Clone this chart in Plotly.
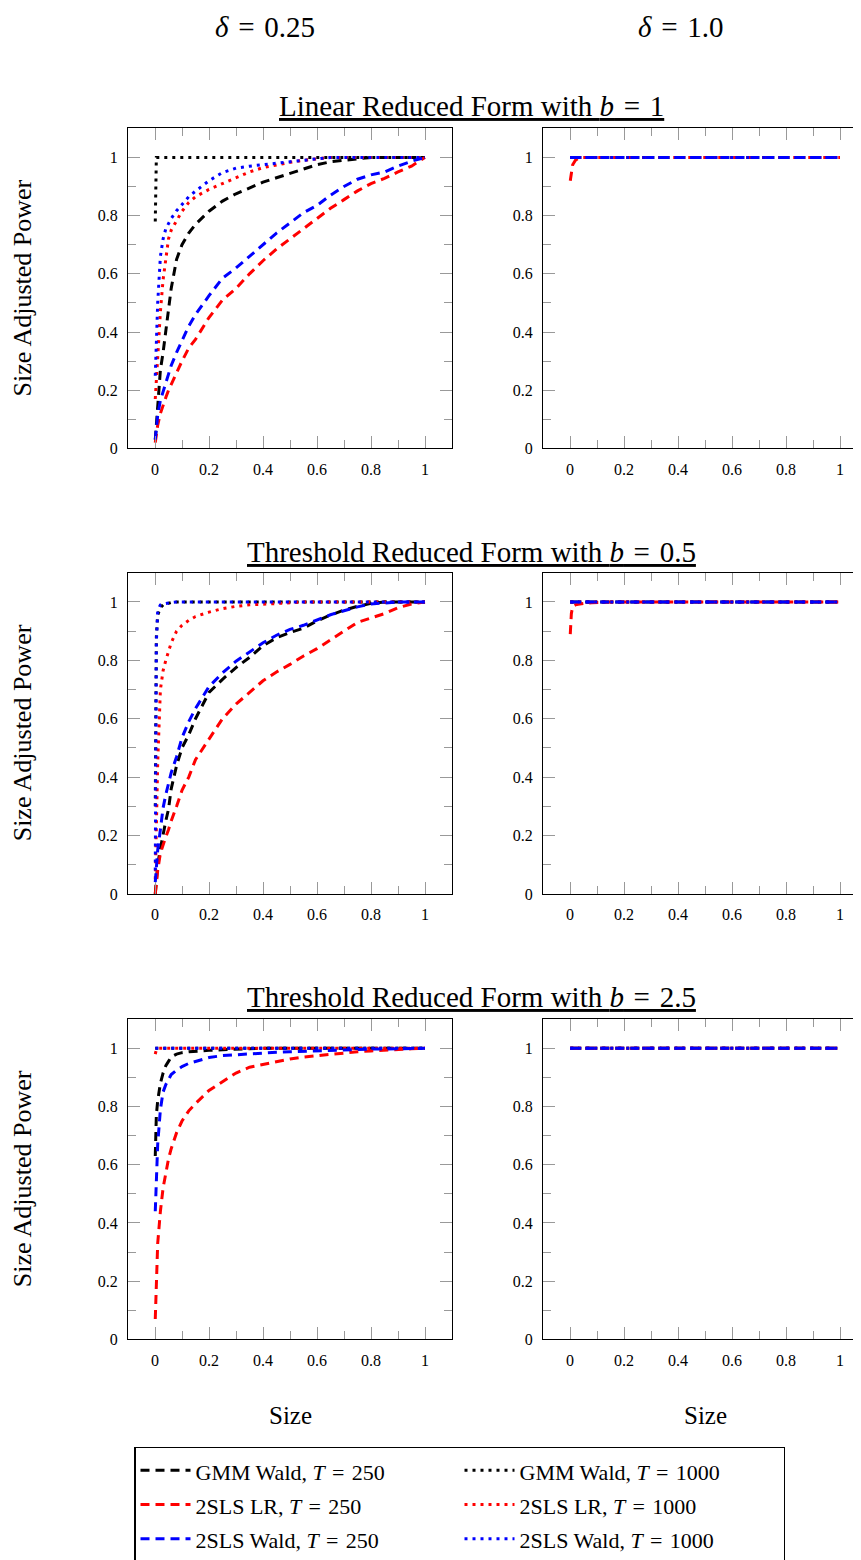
import plotly.graph_objects as go

# ---------------- data ----------------
sizes = [0.001, 0.005, 0.01, 0.02, 0.03, 0.04, 0.05, 0.06, 0.08, 0.1, 0.125, 0.15,
         0.2, 0.25, 0.3, 0.35, 0.4, 0.45, 0.5, 0.55, 0.6, 0.65, 0.7, 0.75, 0.8,
         0.85, 0.9, 0.95, 1.0]

EQ = "\u2004=\u2004"
series_names = [f"GMM Wald, <i>T</i>{EQ}250", f"GMM Wald, <i>T</i>{EQ}1000",
                f"2SLS LR, <i>T</i>{EQ}250", f"2SLS LR, <i>T</i>{EQ}1000",
                f"2SLS Wald, <i>T</i>{EQ}250", f"2SLS Wald, <i>T</i>{EQ}1000"]

row_titles = [f"Linear Reduced Form with <i>b</i>{EQ}1",
              f"Threshold Reduced Form with <i>b</i>{EQ}0.5",
              f"Threshold Reduced Form with <i>b</i>{EQ}2.5"]
col_titles = [f"<i>δ</i>{EQ}0.25", f"<i>δ</i>{EQ}1.0"]
x_ticks = [0, 0.2, 0.4, 0.6, 0.8, 1]
y_ticks = [0, 0.2, 0.4, 0.6, 0.8, 1]

ONES = [1.0] * 29

# Linear, b = 1, delta = 0.25
lin_d025_gmm250 = [0.03, 0.08, 0.15, 0.27, 0.33, 0.40, 0.47, 0.55, 0.65, 0.70, 0.74, 0.77,
                   0.815, 0.85, 0.875, 0.895, 0.915, 0.93, 0.945, 0.96, 0.975, 0.985, 0.99,
                   0.995, 1.0, 1.0, 1.0, 1.0, 1.0]
lin_d025_gmm1000 = [0.78, 1.0, 1.0, 1.0, 1.0, 1.0, 1.0, 1.0, 1.0, 1.0, 1.0, 1.0, 1.0, 1.0,
                    1.0, 1.0, 1.0, 1.0, 1.0, 1.0, 1.0, 1.0, 1.0, 1.0, 1.0, 1.0, 1.0, 1.0, 1.0]
lin_d025_lr250 = [0.02, 0.05, 0.08, 0.12, 0.15, 0.175, 0.20, 0.22, 0.265, 0.30, 0.345, 0.375,
                  0.45, 0.51, 0.55, 0.60, 0.645, 0.685, 0.72, 0.755, 0.79, 0.825, 0.855,
                  0.885, 0.91, 0.928, 0.95, 0.97, 1.0]
lin_d025_lr1000 = [0.17, 0.24, 0.33, 0.47, 0.58, 0.66, 0.72, 0.75, 0.785, 0.815, 0.845, 0.865,
                   0.89, 0.91, 0.93, 0.95, 0.965, 0.975, 0.983, 0.99, 0.995, 1.0, 1.0, 1.0,
                   1.0, 1.0, 1.0, 1.0, 1.0]
lin_d025_wald250 = [0.03, 0.07, 0.115, 0.165, 0.195, 0.23, 0.26, 0.285, 0.33, 0.37, 0.42, 0.46,
                    0.525, 0.585, 0.62, 0.66, 0.70, 0.74, 0.775, 0.81, 0.835, 0.87, 0.90,
                    0.925, 0.94, 0.95, 0.97, 0.987, 1.0]
lin_d025_wald1000 = [0.25, 0.36, 0.50, 0.66, 0.72, 0.755, 0.775, 0.79, 0.817, 0.84, 0.865, 0.884,
                     0.92, 0.948, 0.963, 0.97, 0.975, 0.98, 0.987, 0.992, 0.996, 1.0, 1.0, 1.0,
                     1.0, 1.0, 1.0, 1.0, 1.0]

# Linear, b = 1, delta = 1.0
lin_d1_gmm250 = ONES
lin_d1_gmm1000 = ONES
lin_d1_lr250 = [0.92, 0.955, 0.975, 0.99, 0.997, 1.0, 1.0, 1.0, 1.0, 1.0, 1.0, 1.0, 1.0, 1.0,
                1.0, 1.0, 1.0, 1.0, 1.0, 1.0, 1.0, 1.0, 1.0, 1.0, 1.0, 1.0, 1.0, 1.0, 1.0]
lin_d1_lr1000 = ONES
lin_d1_wald250 = ONES
lin_d1_wald1000 = ONES

# Threshold, b = 0.5, delta = 0.25
th05_d025_gmm250 = [0.0, 0.05, 0.10, 0.155, 0.21, 0.25, 0.29, 0.36, 0.44, 0.50, 0.545, 0.60,
                    0.69, 0.735, 0.775, 0.81, 0.85, 0.877, 0.895, 0.91, 0.935, 0.955, 0.972,
                    0.985, 0.995, 1.0, 1.0, 1.0, 1.0]
th05_d025_gmm1000 = [0.30, 0.88, 0.955, 0.98, 0.99, 0.993, 0.996, 0.998, 1.0, 1.0, 1.0, 1.0,
                     1.0, 1.0, 1.0, 1.0, 1.0, 1.0, 1.0, 1.0, 1.0, 1.0, 1.0, 1.0, 1.0, 1.0,
                     1.0, 1.0, 1.0]
th05_d025_lr250 = [0.0, 0.04, 0.08, 0.14, 0.17, 0.195, 0.22, 0.25, 0.30, 0.355, 0.40, 0.46,
                   0.53, 0.60, 0.65, 0.69, 0.73, 0.76, 0.786, 0.815, 0.84, 0.87, 0.90, 0.93,
                   0.945, 0.96, 0.98, 0.993, 1.0]
th05_d025_lr1000 = [0.05, 0.28, 0.45, 0.70, 0.765, 0.80, 0.827, 0.86, 0.90, 0.92, 0.937, 0.95,
                    0.965, 0.977, 0.985, 0.99, 0.992, 0.995, 0.998, 1.0, 1.0, 1.0, 1.0, 1.0,
                    1.0, 1.0, 1.0, 1.0, 1.0]
th05_d025_wald250 = [0.04, 0.09, 0.15, 0.22, 0.295, 0.34, 0.38, 0.415, 0.47, 0.535, 0.59, 0.635,
                     0.71, 0.757, 0.797, 0.83, 0.86, 0.886, 0.906, 0.92, 0.937, 0.956, 0.97,
                     0.983, 0.993, 0.997, 1.0, 1.0, 1.0]
th05_d025_wald1000 = [0.08, 0.86, 0.97, 0.99, 0.993, 0.995, 0.996, 0.998, 1.0, 1.0, 1.0, 1.0,
                      1.0, 1.0, 1.0, 1.0, 1.0, 1.0, 1.0, 1.0, 1.0, 1.0, 1.0, 1.0, 1.0, 1.0,
                      1.0, 1.0, 1.0]

# Threshold, b = 0.5, delta = 1.0
th05_d1_gmm250 = ONES
th05_d1_gmm1000 = ONES
th05_d1_lr250 = [0.89, 0.96, 0.985, 0.99, 0.992, 0.994, 0.995, 0.996, 0.997, 0.998, 0.999, 1.0,
                 1.0, 1.0, 1.0, 1.0, 1.0, 1.0, 1.0, 1.0, 1.0, 1.0, 1.0, 1.0, 1.0, 1.0, 1.0,
                 1.0, 1.0]
th05_d1_lr1000 = ONES
th05_d1_wald250 = ONES
th05_d1_wald1000 = ONES

# Threshold, b = 2.5, delta = 0.25
th25_d025_gmm250 = [0.63, 0.77, 0.82, 0.88, 0.915, 0.94, 0.955, 0.97, 0.98, 0.985, 0.988, 0.99,
                    0.993, 0.995, 0.997, 0.998, 1.0, 1.0, 1.0, 1.0, 1.0, 1.0, 1.0, 1.0, 1.0,
                    1.0, 1.0, 1.0, 1.0]
th25_d025_gmm1000 = ONES
th25_d025_lr250 = [0.07, 0.22, 0.33, 0.44, 0.52, 0.57, 0.62, 0.655, 0.71, 0.75, 0.785, 0.81,
                   0.855, 0.885, 0.915, 0.935, 0.945, 0.955, 0.963, 0.97, 0.975, 0.98, 0.985,
                   0.988, 0.991, 0.994, 0.996, 0.998, 1.0]
th25_d025_lr1000 = [0.98, 0.995, 1.0, 1.0, 1.0, 1.0, 1.0, 1.0, 1.0, 1.0, 1.0, 1.0, 1.0, 1.0,
                    1.0, 1.0, 1.0, 1.0, 1.0, 1.0, 1.0, 1.0, 1.0, 1.0, 1.0, 1.0, 1.0, 1.0, 1.0]
th25_d025_wald250 = [0.44, 0.58, 0.67, 0.79, 0.85, 0.875, 0.895, 0.91, 0.925, 0.937, 0.948, 0.955,
                     0.968, 0.975, 0.978, 0.982, 0.984, 0.986, 0.988, 0.99, 0.991, 0.993, 0.995,
                     0.996, 0.997, 0.998, 0.999, 1.0, 1.0]
th25_d025_wald1000 = ONES

# Threshold, b = 2.5, delta = 1.0
th25_d1_gmm250 = ONES
th25_d1_gmm1000 = ONES
th25_d1_lr250 = ONES
th25_d1_lr1000 = ONES
th25_d1_wald250 = ONES
th25_d1_wald1000 = ONES

panels = [
    [lin_d025_gmm250, lin_d025_gmm1000, lin_d025_lr250, lin_d025_lr1000, lin_d025_wald250, lin_d025_wald1000],
    [lin_d1_gmm250, lin_d1_gmm1000, lin_d1_lr250, lin_d1_lr1000, lin_d1_wald250, lin_d1_wald1000],
    [th05_d025_gmm250, th05_d025_gmm1000, th05_d025_lr250, th05_d025_lr1000, th05_d025_wald250, th05_d025_wald1000],
    [th05_d1_gmm250, th05_d1_gmm1000, th05_d1_lr250, th05_d1_lr1000, th05_d1_wald250, th05_d1_wald1000],
    [th25_d025_gmm250, th25_d025_gmm1000, th25_d025_lr250, th25_d025_lr1000, th25_d025_wald250, th25_d025_wald1000],
    [th25_d1_gmm250, th25_d1_gmm1000, th25_d1_lr250, th25_d1_lr1000, th25_d1_wald250, th25_d1_wald1000],
]

# ---------------- styling / layout ----------------
FONT = "Liberation Serif"
W, H, OFF = 880, 1570, 8


def fx(p):
    return (p - OFF) / W


def fy(p):
    return 1 - (p - OFF) / H


colors = ["#000000", "#000000", "#ff0000", "#ff0000", "#0000ff", "#0000ff"]
DASH = "9px,6px"
DOT = "3px,5px"
dashes = [DASH, DOT, DASH, DOT, DASH, DOT]

col_px = [(128, 452), (543, 867)]
row_px = [(129, 451), (576, 899), (1025, 1347)]

fig = go.Figure()
layout = dict(
    width=W, height=H, margin=dict(l=0, r=0, t=0, b=0),
    paper_bgcolor="white", plot_bgcolor="white",
    font=dict(family=FONT, color="black"),
    showlegend=True,
)

axis_common = dict(
    showline=True, linecolor="black", linewidth=1.3, mirror="ticks",
    ticks="inside", ticklen=12, tickwidth=1.2, tickcolor="#999999",
    showgrid=False, zeroline=False,
    tickfont=dict(family=FONT, size=16, color="black"),
    ticklabelstandoff=6,
    minor=dict(ticks="inside", ticklen=8, tickwidth=1.2, tickcolor="#999999",
               dtick=0.1, tick0=0, showgrid=False),
)

for idx in range(6):
    r, c = divmod(idx, 2)
    n = idx + 1
    xa = "xaxis" if n == 1 else f"xaxis{n}"
    ya = "yaxis" if n == 1 else f"yaxis{n}"
    xr = "x" if n == 1 else f"x{n}"
    yr = "y" if n == 1 else f"y{n}"
    x0, x1 = col_px[c]
    y0, y1 = row_px[r]
    layout[xa] = dict(axis_common, domain=[fx(x0), fx(x1)], anchor=yr,
                      range=[-0.1, 1.1], tickmode="array", tickvals=x_ticks)
    layout[ya] = dict(axis_common, domain=[fy(y1), fy(y0)], anchor=xr,
                      range=[0, 1.1], tickmode="array", tickvals=y_ticks)
    for k in range(6):
        fig.add_trace(go.Scatter(
            x=sizes, y=panels[idx][k], mode="lines", xaxis=xr, yaxis=yr,
            name=f'<span style="font-size:22px">{series_names[k]}</span>',
            showlegend=(idx == 0),
            line=dict(color=colors[k], width=3, dash=dashes[k]),
            hoverinfo="skip",
        ))

ann = []


def add_text(text, x, y, size, angle=0):
    ann.append(dict(text=text, x=fx(x), y=fy(y), xref="paper", yref="paper",
                    xanchor="center", yanchor="middle", textangle=angle,
                    showarrow=False, font=dict(size=size, family=FONT, color="black")))


for c, t in enumerate(col_titles):
    add_text(t, [265, 680][c], 27, 29)
for r, t in enumerate(row_titles):
    add_text(f'<span style="text-decoration:underline">{t}</span>', 472,
             [107, 555, 1003][r], 29)
    add_text("Size Adjusted Power", 22, sum(row_px[r]) / 2, 26, -90)
for c in range(2):
    add_text("Size", [290, 705][c], 1424, 25)
layout["annotations"] = ann

layout["legend"] = dict(
    orientation="h", x=fx(134), y=fy(1455), xanchor="left", yanchor="top",
    bordercolor="black", borderwidth=1.5, bgcolor="white",
    font=dict(size=24, family=FONT, color="black"),
    entrywidth=259, entrywidthmode="pixels", itemwidth=50,
)

fig.update_layout(**layout)
fig.write_html("out.html")
